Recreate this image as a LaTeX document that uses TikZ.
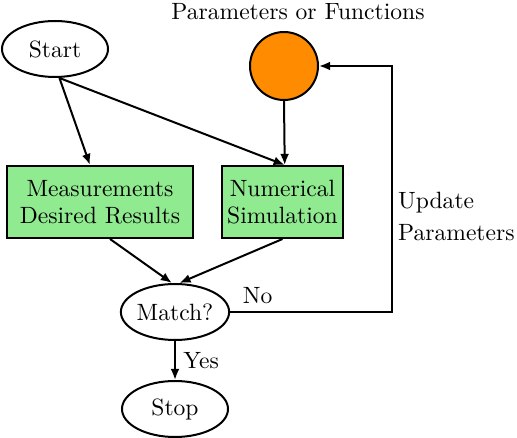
\documentclass[tikz,border=0pt]{standalone}
\usetikzlibrary{shapes.geometric,arrows.meta}
\begin{document}
\begin{tikzpicture}[x=0.45pt,y=-0.45pt,line width=0.9pt,
		font=\fontsize{10.6}{12.4}\selectfont,
		>={Latex[length=5pt,width=4pt]},
		oval/.style={draw,ellipse,inner sep=0pt,minimum width=47.7pt,minimum height=25.2pt},
		greenbox/.style={draw,fill={rgb,255:red,144;green,234;blue,144},align=center,inner sep=0pt,minimum height=32.4pt}]
	\useasboundingbox (0,0) rectangle (517,438);
	\node[oval] (start) at (55,49) {Start};
	\node (paramtext) at (298,12) {Parameters or Functions};
	\node[draw,circle,fill={rgb,255:red,255;green,140;blue,0},inner sep=0pt,minimum size=30.6pt] (param) at (284,66) {};
	\node[greenbox,minimum width=83.7pt] (meas) at (100,202) {Measurements\\Desired Results};
	\node[greenbox,minimum width=54.5pt] (simu) at (282.5,202) {Numerical\\Simulation};
	\node[oval] (match) at (175,312) {Match?};
	\node[oval] (stop) at (175,409) {Stop};
	\coordinate (turn) at (392,312);
	\node[anchor=west,align=left,inner xsep=1pt,font=\fontsize{10.6}{14.4}\selectfont] (update) at (395,216) {Update\\Parameters};
	% connectors
	\draw[->] ([xshift=2pt]start.south) -- ([xshift=-4.5pt]meas.north);
	\draw[->] ([xshift=2pt]start.south) -- ([xshift=1pt]simu.north);
	\draw[->] (param.south) -- ([xshift=1pt]simu.north);
	\draw[->] ([xshift=4.5pt]meas.south) -- ([xshift=-1.4pt]match.north);
	\draw[->] (simu.south) -- ([xshift=2pt]match.north);
	\draw[->] (match.south) -- node[right] {Yes} (stop.north);
	\draw[->] (match.east) -- node[above,pos=0.17] {No} (turn) |- (param.east);
\end{tikzpicture}
\end{document}
